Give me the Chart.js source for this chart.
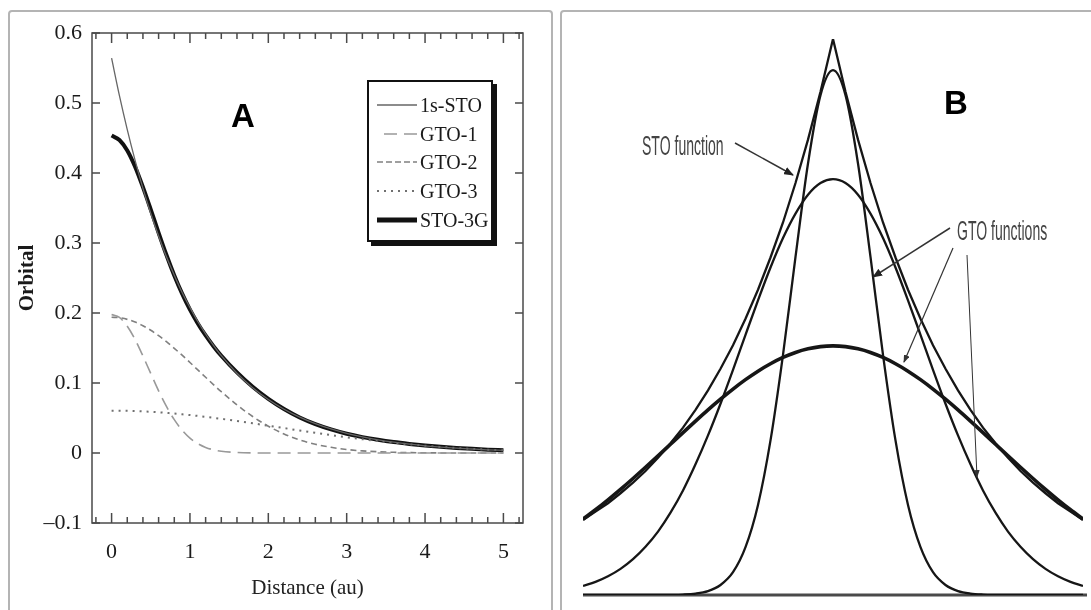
<!DOCTYPE html>
<html>
<head>
<meta charset="utf-8">
<script src="https://cdn.jsdelivr.net/npm/chart.js@4.4.1/dist/chart.umd.min.js"></script>
<style>
  html, body { margin: 0; padding: 0; background: #fff; }
  body { width: 1091px; height: 610px; position: relative; overflow: hidden; }
  .frame { position: absolute; border: 2px solid #b4b4b4; border-radius: 4px; box-sizing: border-box; }
  #frameA { left: 8px; top: 10px; width: 545px; height: 640px; }
  #frameB { left: 560px; top: 10px; width: 560px; height: 640px; }
  canvas { position: absolute; }
  #chartA { left: 0; top: 0; }
  #chartB { left: 560px; top: 0; }
  .legend { position: absolute; left: 367px; top: 80px; width: 126px; height: 162px; border: 2px solid #111;
            box-shadow: 4px 4px 0 #111; background: #fff; box-sizing: border-box;
            font-family: "Liberation Serif", serif; font-size: 20px; color: #1a1a1a; }
  .row { position: absolute; left: 6px; height: 24px; line-height: 24px; white-space: nowrap; }
  .row svg { position: absolute; left: 0; top: 7px; }
  .row span { position: absolute; left: 45px; top: 0; }
  .big { position: absolute; font-family: "Liberation Sans", Arial, sans-serif; font-weight: bold; font-size: 33px; line-height: 33px; color: #000; }
  .note { position: absolute; font-family: "Liberation Sans", Arial, sans-serif; font-size: 27px; line-height: 27px;
          color: #444; white-space: nowrap; transform: scaleX(0.52); transform-origin: 0 0; }
  #arrows { position: absolute; left: 0; top: 0; }
</style>
</head>
<body>
<div class="frame" id="frameA"></div>
<div class="frame" id="frameB"></div>
<canvas id="chartA" width="552" height="610"></canvas>
<canvas id="chartB" width="531" height="610"></canvas>

<div class="legend">
  <div class="row" style="top:11px"><svg width="42" height="10"><line x1="2" y1="5" x2="42" y2="5" stroke="#666" stroke-width="1.3"/></svg><span>1s-STO</span></div>
  <div class="row" style="top:40px"><svg width="42" height="10"><line x1="9" y1="5" x2="42" y2="5" stroke="#999" stroke-width="1.6" stroke-dasharray="13 7"/></svg><span>GTO-1</span></div>
  <div class="row" style="top:68px"><svg width="42" height="10"><line x1="2" y1="5" x2="42" y2="5" stroke="#808080" stroke-width="1.6" stroke-dasharray="6 3"/></svg><span>GTO-2</span></div>
  <div class="row" style="top:97px"><svg width="42" height="10"><line x1="2" y1="5" x2="42" y2="5" stroke="#707070" stroke-width="2" stroke-dasharray="2 5"/></svg><span>GTO-3</span></div>
  <div class="row" style="top:126px"><svg width="42" height="10"><line x1="2" y1="5" x2="42" y2="5" stroke="#111" stroke-width="5"/></svg><span>STO-3G</span></div>
</div>

<div class="big" style="left:231px; top:99px;">A</div>
<div class="big" style="left:944px; top:86px;">B</div>
<div class="note" style="left:642px; top:133px;">STO function</div>
<div class="note" style="left:957px; top:218px;">GTO functions</div>

<svg id="arrows" width="1091" height="610">
  <defs>
    <marker id="headBig" markerWidth="10" markerHeight="8" refX="9" refY="4" orient="auto" markerUnits="userSpaceOnUse">
      <path d="M0,0 L10,4 L0,8 z" fill="#222"/>
    </marker>
    <marker id="headSmall" markerWidth="8" markerHeight="6" refX="7" refY="3" orient="auto" markerUnits="userSpaceOnUse">
      <path d="M0,0 L8,3 L0,6 z" fill="#333"/>
    </marker>
  </defs>
  <line x1="735" y1="143" x2="793" y2="175" stroke="#333" stroke-width="1.5" marker-end="url(#headBig)"/>
  <line x1="950" y1="228" x2="873" y2="277" stroke="#333" stroke-width="1.5" marker-end="url(#headBig)"/>
  <line x1="953" y1="248" x2="904" y2="362" stroke="#333" stroke-width="1.2" marker-end="url(#headSmall)"/>
  <line x1="967" y1="255" x2="977" y2="477" stroke="#333" stroke-width="1" marker-end="url(#headSmall)"/>
</svg>

<script>
// Panel A: radial distance (au) and orbital values
const xA = [0, 0.1, 0.2, 0.3, 0.4, 0.5, 0.6, 0.7, 0.8, 0.9, 1, 1.1, 1.2, 1.3, 1.4,
            1.6, 1.8, 2, 2.2, 2.4, 2.6, 2.8, 3, 3.2, 3.4, 3.6, 3.8, 4, 4.2, 4.4, 4.6, 4.8, 5];
const sto1s = [0.564, 0.5105, 0.462, 0.418, 0.378, 0.3422, 0.310, 0.2802, 0.254, 0.2294, 0.208, 0.1878, 0.170, 0.1538, 0.139,
               0.114, 0.0933, 0.0764, 0.0625, 0.0512, 0.0419, 0.0343, 0.0281, 0.0230, 0.0188, 0.0154, 0.0126, 0.0103, 0.0085, 0.0069, 0.0057, 0.0046, 0.0038];
const gto1 = [0.198, 0.1936, 0.181, 0.1621, 0.1386, 0.1135, 0.0888, 0.0665, 0.0476, 0.0326, 0.0213, 0.0134, 0.0080, 0.0046, 0.0025,
              0.0007, 0.0001, 0, 0, 0, 0, 0, 0, 0, 0, 0, 0, 0, 0, 0, 0, 0, 0];
const gto2 = [0.194, 0.1932, 0.1909, 0.1870, 0.1818, 0.1753, 0.1676, 0.1590, 0.1496, 0.1397, 0.1293, 0.1187, 0.1082, 0.0977, 0.0876,
              0.0687, 0.0521, 0.0383, 0.0272, 0.0187, 0.0125, 0.0081, 0.0050, 0.0030, 0.0018, 0.0010, 0.0006, 0.0003, 0.0001, 0, 0, 0, 0];
const gto3 = [0.0605, 0.0604, 0.0602, 0.0599, 0.0594, 0.0589, 0.0582, 0.0573, 0.0564, 0.0553, 0.0542, 0.0530, 0.0517, 0.0503, 0.0488,
              0.0457, 0.0424, 0.0390, 0.0356, 0.0321, 0.0288, 0.0256, 0.0225, 0.0197, 0.0170, 0.0146, 0.0124, 0.0104, 0.0087, 0.0072, 0.0059, 0.0048, 0.0039];
const sto3g = [0.4535, 0.4472, 0.4322, 0.409, 0.3798, 0.3477, 0.3146, 0.2828, 0.2536, 0.2276, 0.2048, 0.1851, 0.1679, 0.1526, 0.1389,
               0.1151, 0.0946, 0.0773, 0.0628, 0.0508, 0.0413, 0.0337, 0.0275, 0.0227, 0.0188, 0.0156, 0.0130, 0.0107, 0.0088, 0.0072, 0.0059, 0.0048, 0.0039];
const xTicks = [0, 1, 2, 3, 4, 5];
const yTicks = [-0.1, 0, 0.1, 0.2, 0.3, 0.4, 0.5, 0.6];
const yTickLabels = ['\u20130.1', '0', '0.1', '0.2', '0.3', '0.4', '0.5', '0.6'];

// Panel B: STO and three GTO shapes (arbitrary units)
const xB = [-2, -1.9, -1.8, -1.7, -1.6, -1.5, -1.4, -1.3, -1.2, -1.1, -1, -0.9, -0.8, -0.7, -0.6, -0.5, -0.4, -0.3, -0.2, -0.1, 0,
            0.1, 0.2, 0.3, 0.4, 0.5, 0.6, 0.7, 0.8, 0.9, 1, 1.1, 1.2, 1.3, 1.4, 1.5, 1.6, 1.7, 1.8, 1.9, 2];
const stoB = [0.135, 0.150, 0.165, 0.183, 0.202, 0.223, 0.247, 0.273, 0.301, 0.333, 0.368, 0.407, 0.449, 0.497, 0.549, 0.607, 0.670, 0.741, 0.819, 0.905, 1.000,
              0.905, 0.819, 0.741, 0.670, 0.607, 0.549, 0.497, 0.449, 0.407, 0.368, 0.333, 0.301, 0.273, 0.247, 0.223, 0.202, 0.183, 0.165, 0.150, 0.135];
const gtoNarrow = [0, 0, 0, 0, 0, 0, 0, 0.0002, 0.0008, 0.0025, 0.007, 0.018, 0.041, 0.086, 0.162, 0.278, 0.432, 0.608, 0.776, 0.899, 0.944,
                   0.899, 0.776, 0.608, 0.432, 0.278, 0.162, 0.086, 0.041, 0.018, 0.007, 0.0025, 0.0008, 0.0002, 0, 0, 0, 0, 0, 0, 0];
const gtoMedium = [0.0162, 0.0235, 0.0336, 0.0469, 0.0644, 0.0867, 0.114, 0.148, 0.188, 0.235, 0.287, 0.344, 0.405, 0.468, 0.530, 0.589, 0.642, 0.686, 0.720, 0.741, 0.748,
                   0.741, 0.720, 0.686, 0.642, 0.589, 0.530, 0.468, 0.405, 0.344, 0.287, 0.235, 0.188, 0.148, 0.114, 0.0867, 0.0644, 0.0469, 0.0336, 0.0235, 0.0162];
const gtoWide = [0.1366, 0.1533, 0.1711, 0.1899, 0.2095, 0.2297, 0.2503, 0.2712, 0.2921, 0.3127, 0.3329, 0.3522, 0.3704, 0.3873, 0.4026, 0.4159, 0.4272, 0.4362, 0.4427, 0.4467, 0.448,
                 0.4467, 0.4427, 0.4362, 0.4272, 0.4159, 0.4026, 0.3873, 0.3704, 0.3522, 0.3329, 0.3127, 0.2921, 0.2712, 0.2503, 0.2297, 0.2095, 0.1899, 0.1711, 0.1533, 0.1366];

const pts = (xs, ys) => xs.map((x, i) => ({ x: x, y: ys[i] }));

// frame and inward ticks for panel A
const frameTicks = {
  id: 'frameTicks',
  afterDraw(chart) {
    const { ctx, chartArea: a, scales: { x, y } } = chart;
    ctx.save();
    ctx.strokeStyle = '#4a4a4a';
    ctx.lineWidth = 1.5;
    ctx.strokeRect(a.left, a.top, a.right - a.left, a.bottom - a.top);
    ctx.beginPath();
    xTicks.forEach(v => {
      const px = x.getPixelForValue(v);
      ctx.moveTo(px, a.bottom); ctx.lineTo(px, a.bottom - 10);
      ctx.moveTo(px, a.top); ctx.lineTo(px, a.top + 10);
    });
    for (let k = -1; k <= 26; k++) {
      if (k % 5 === 0) continue;
      const px = x.getPixelForValue(k * 0.2);
      ctx.moveTo(px, a.bottom); ctx.lineTo(px, a.bottom - 6);
      ctx.moveTo(px, a.top); ctx.lineTo(px, a.top + 6);
    }
    yTicks.forEach(v => {
      const py = y.getPixelForValue(v);
      ctx.moveTo(a.left, py); ctx.lineTo(a.left + 8, py);
      ctx.moveTo(a.right, py); ctx.lineTo(a.right - 8, py);
    });
    ctx.stroke();
    ctx.restore();
  }
};

const serif = 'Liberation Serif';

new Chart(document.getElementById('chartA'), {
  type: 'line',
  data: {
    datasets: [
      { label: '1s-STO', data: pts(xA, sto1s), borderColor: '#666', borderWidth: 1.3 },
      { label: 'GTO-1', data: pts(xA, gto1), borderColor: '#999', borderWidth: 1.6, borderDash: [13, 7] },
      { label: 'GTO-2', data: pts(xA, gto2), borderColor: '#808080', borderWidth: 1.6, borderDash: [6, 4] },
      { label: 'GTO-3', data: pts(xA, gto3), borderColor: '#707070', borderWidth: 2, borderDash: [2, 5] },
      { label: 'STO-3G', data: pts(xA, sto3g), borderColor: '#111', borderWidth: 4 }
    ]
  },
  options: {
    responsive: false,
    animation: false,
    layout: { padding: { left: 0, top: 33, right: 29, bottom: 0 } },
    elements: { point: { radius: 0 }, line: { cubicInterpolationMode: 'monotone', fill: false } },
    plugins: { legend: { display: false }, tooltip: { enabled: false } },
    scales: {
      x: {
        type: 'linear', min: -0.25, max: 5.25,
        afterBuildTicks: s => { s.ticks = xTicks.map(v => ({ value: v })); },
        afterFit: s => { s.height = 87; },
        grid: { display: false, drawTicks: false },
        border: { display: false },
        ticks: { padding: 16, color: '#1a1a1a', font: { family: serif, size: 22 }, callback: v => String(v) },
        title: { display: true, text: 'Distance (au)', color: '#222', font: { family: serif, size: 21 }, padding: { top: 0, bottom: 9 } }
      },
      y: {
        type: 'linear', min: -0.1, max: 0.6,
        afterBuildTicks: s => { s.ticks = yTicks.map(v => ({ value: v })); },
        afterFit: s => { s.width = 92; },
        grid: { display: false, drawTicks: false },
        border: { display: false },
        ticks: { padding: 10, color: '#1a1a1a', font: { family: serif, size: 22 }, callback: (v, i) => yTickLabels[i] },
        title: { display: true, text: 'Orbital', color: '#1a1a1a', font: { family: serif, size: 21, weight: 'bold' }, padding: { top: 15, bottom: 0 } }
      }
    }
  },
  plugins: [frameTicks]
});

// baseline for panel B
const baseline = {
  id: 'baseline',
  beforeDatasetsDraw(chart) {
    const { ctx, chartArea: a, scales: { y } } = chart;
    const py = y.getPixelForValue(0);
    ctx.save();
    ctx.strokeStyle = '#4a4a4a';
    ctx.lineWidth = 3;
    ctx.beginPath();
    ctx.moveTo(a.left, py);
    ctx.lineTo(a.right + 4, py);
    ctx.stroke();
    ctx.restore();
  }
};

new Chart(document.getElementById('chartB'), {
  type: 'line',
  data: {
    datasets: [
      { label: 'GTO wide', data: pts(xB, gtoWide), borderColor: '#161616', borderWidth: 3.6 },
      { label: 'GTO medium', data: pts(xB, gtoMedium), borderColor: '#161616', borderWidth: 2.3 },
      { label: 'GTO narrow', data: pts(xB, gtoNarrow), borderColor: '#161616', borderWidth: 2.3 },
      { label: 'STO', data: pts(xB, stoB), borderColor: '#161616', borderWidth: 2.3, cubicInterpolationMode: 'default', tension: 0 }
    ]
  },
  options: {
    responsive: false,
    animation: false,
    layout: { padding: { left: 23, top: 39, right: 8, bottom: 15 } },
    elements: { point: { radius: 0 }, line: { cubicInterpolationMode: 'monotone', fill: false } },
    plugins: { legend: { display: false }, tooltip: { enabled: false } },
    scales: {
      x: { type: 'linear', min: -2, max: 2, display: false },
      y: { type: 'linear', min: 0, max: 1, display: false }
    }
  },
  plugins: [baseline]
});
</script>
</body>
</html>
